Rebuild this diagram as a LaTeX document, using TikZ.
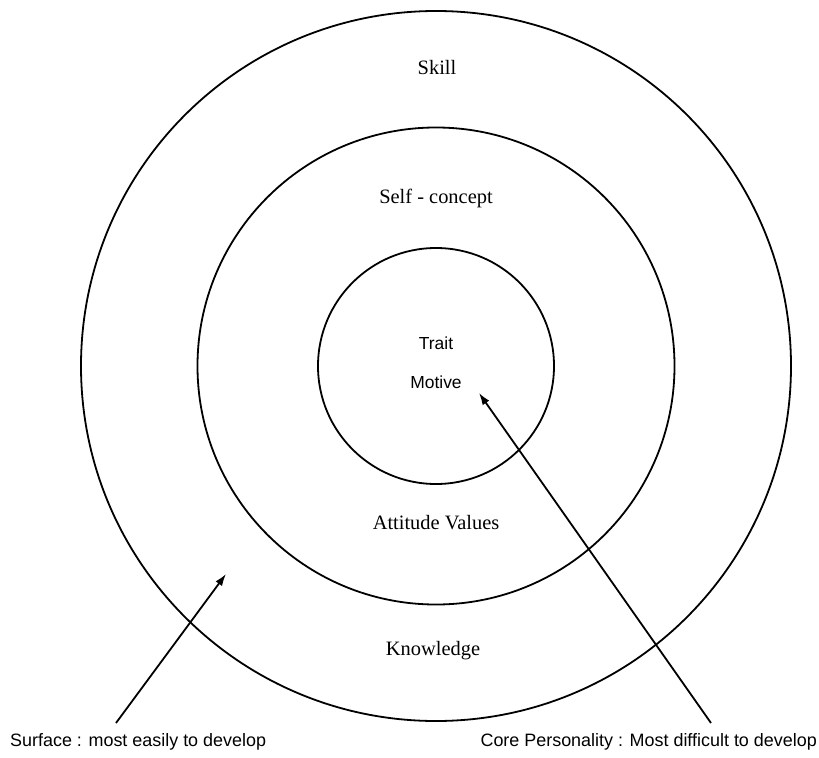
\documentclass[tikz,border=0pt]{standalone}
\usepackage{fontspec}
\setmainfont{Liberation Serif}
\setsansfont{Liberation Sans}
\usetikzlibrary{arrows.meta,positioning}

\begin{document}
\begin{tikzpicture}[
    x=1bp, y=-1bp,
    ring/.style={circle, draw=black, line width=1.8bp, minimum size=#1, inner sep=0pt},
    layerlabel/.style={font=\fontsize{20.5}{24}\selectfont},
    corelabel/.style={font=\sffamily\fontsize{17.5}{21}\selectfont},
    notelabel/.style={font=\sffamily\fontsize{18}{21}\selectfont, inner sep=0pt},
    pointer/.style={-{Latex[length=12bp,width=8bp]}, line width=1.8bp}
]
\useasboundingbox (0,0) rectangle (819,758);

% Rings
\node[ring=710bp] (outer) at (436,366) {};
\node[ring=477bp] (middle) at (outer.center) {};
\node[ring=236bp] (inner) at (outer.center) {};

% Layer labels
\node[layerlabel] (skill) at (437,68) {Skill};
\node[layerlabel] (selfconcept) at (436,198) {Self - concept};
\node[corelabel] (trait) at (436,343) {Trait};
\node[corelabel] (motive) at (436,382) {Motive};
\node[layerlabel] (attitude) at (436,523) {Attitude Values};
\node[layerlabel] (knowledge) at (433,651) {Knowledge};

% Notes below the rings
\node[notelabel, anchor=west] (surface) at (10,742) {Surface : most easily to develop};
\node[notelabel, anchor=east] (core) at (817,742) {Core Personality : Most difficult to develop};

% Arrows
\coordinate (surfacetail) at (116,723);
\coordinate (surfacetip) at (226,574);
\coordinate (coretail) at (711,723);
\coordinate (coretip) at (479,393);
\draw[pointer] (surfacetail) -- (surfacetip);
\draw[pointer] (coretail) -- (coretip);

\end{tikzpicture}
\end{document}
